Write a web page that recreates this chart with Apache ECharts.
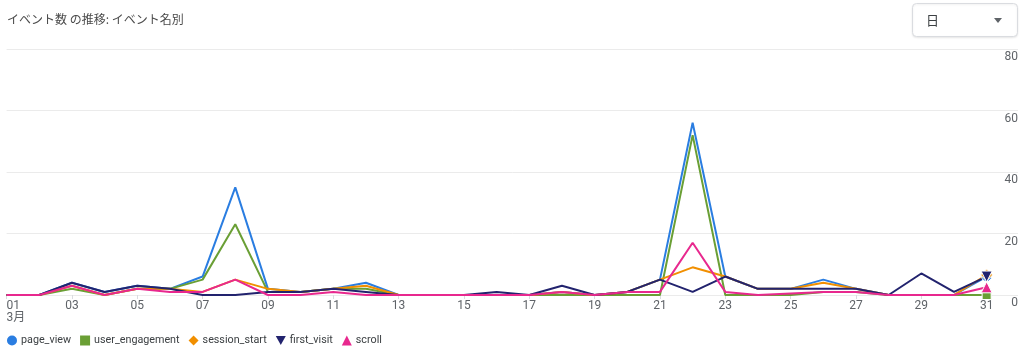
<!DOCTYPE html>
<html>
<head>
<meta charset="utf-8">
<script src="https://cdn.jsdelivr.net/npm/echarts@6/dist/echarts.min.js"></script>
<style>
  html, body { margin: 0; padding: 0; background: #fff; }
  #chart { width: 1024px; height: 351px; }
</style>
</head>
<body>
<div id="chart"></div>
<script>
// days of March
const days = [1, 2, 3, 4, 5, 6, 7, 8, 9, 10, 11, 12, 13, 14, 15, 16, 17, 18, 19, 20, 21, 22, 23, 24, 25, 26, 27, 28, 29, 30, 31]
const labelDays = [1, 3, 5, 7, 9, 11, 13, 15, 17, 19, 21, 23, 25, 27, 29, 31]
const yTicks = [0, 20, 40, 60, 80]

const pageView       = [0, 0, 4, 1, 3, 2, 6, 35, 2, 1, 2, 4, 0, 0, 0, 0, 0, 1, 0, 1, 5, 56, 6, 2, 2, 5, 2, 0, 0, 0, 6]
const userEngagement = [0, 0, 2, 0, 2, 2, 5, 23, 1, 1, 2, 2, 0, 0, 0, 0, 0, 0, 0, 0, 0, 52, 0, 0, 0, 1, 1, 0, 0, 0, 0]
const sessionStart   = [0, 0, 3, 0, 2, 2, 1, 5, 2, 1, 2, 3, 0, 0, 0, 0, 0, 1, 0, 1, 5, 9, 6, 2, 2, 4, 2, 0, 0, 0, 6.5]
const firstVisit     = [0, 0, 4, 1, 3, 2, 0, 0, 1, 1, 2, 1, 0, 0, 0, 1, 0, 3, 0, 1, 5, 1, 6, 2, 2, 2, 2, 0, 7, 1, 6]
const scroll         = [0, 0, 3, 0, 2, 1, 1, 5, 0, 0, 1, 0, 0, 0, 0, 0, 0, 1, 0, 1, 1, 17, 1, 0, 0.5, 1, 1, 0, 0, 0, 2.5]

const downTriangle = 'path://M0,0 L10,0 L5,9 Z'

function makeSeries(name, values, color, symbol, size) {
  return {
    name: name,
    type: 'line',
    symbol: symbol,
    showSymbol: true,
    symbolSize: 0,
    lineStyle: { width: 2, color: color },
    itemStyle: { color: color },
    emphasis: { disabled: true },
    data: values.map((v, i) => {
      if (i === values.length - 1) {
        return { value: [days[i], v], symbolSize: size, itemStyle: { color: color, borderColor: '#fff', borderWidth: 1 } }
      }
      return [days[i], v]
    })
  }
}

const chart = echarts.init(document.getElementById('chart'))
chart.setOption({
  backgroundColor: '#fff',
  animation: false,
  textStyle: { fontFamily: 'Roboto, "Noto Sans CJK JP", sans-serif' },
  title: {
    text: 'イベント数 の推移: イベント名別',
    left: 2,
    top: 8,
    textStyle: { fontSize: 12, fontWeight: 'normal', color: '#4a4a4a', fontFamily: '"Noto Sans CJK JP", sans-serif' }
  },
  graphic: [
    {
      type: 'rect',
      shape: { x: 912.5, y: 3.5, width: 105, height: 33, r: 4 },
      style: { fill: '#fff', stroke: '#dadce0', lineWidth: 1, shadowBlur: 2, shadowColor: 'rgba(0,0,0,0.08)', shadowOffsetY: 1 }
    },
    {
      type: 'text',
      left: 926,
      top: 14,
      style: { text: '日', fontSize: 13, fill: '#3c4043', fontFamily: '"Noto Sans CJK JP", sans-serif' }
    },
    {
      type: 'polygon',
      shape: { points: [[994, 18], [1002, 18], [998, 23]] },
      style: { fill: '#5f6368' }
    }
  ],
  legend: {
    left: 7,
    top: 335,
    padding: 0,
    itemWidth: 10,
    itemHeight: 10,
    itemGap: 9,
    selectedMode: false,
    textStyle: { fontSize: 10.75, color: '#3c4043', fontFamily: 'Roboto, sans-serif', padding: [0, 0, 0, -1] },
    data: [
      { name: 'page_view', icon: 'circle' },
      { name: 'user_engagement', icon: 'rect' },
      { name: 'session_start', icon: 'diamond' },
      { name: 'first_visit', icon: downTriangle },
      { name: 'scroll', icon: 'triangle' }
    ]
  },
  grid: { left: 6.6, right: 6, top: 49, bottom: 56 },
  xAxis: {
    type: 'value',
    min: 1,
    max: 31.96,
    axisLine: { show: false },
    splitLine: { show: false },
    axisTick: {
      show: true,
      length: 4,
      customValues: labelDays,
      lineStyle: { color: '#dadce0' }
    },
    axisLabel: {
      customValues: labelDays,
      margin: 5,
      fontSize: 12,
      lineHeight: 12,
      color: '#5f6368',
      alignMinLabel: 'left',
      formatter: function (v) {
        const s = String(v).padStart(2, '0')
        return v === days[0] ? s + '\n3月' : s
      }
    }
  },
  yAxis: {
    type: 'value',
    position: 'right',
    min: yTicks[0],
    max: yTicks[yTicks.length - 1],
    interval: 20,
    axisLine: { show: false },
    axisTick: { show: false },
    splitLine: { lineStyle: { color: '#ebebeb', width: 1 } },
    axisLabel: {
      inside: true,
      margin: 0,
      fontSize: 12,
      color: '#5f6368',
      verticalAlign: 'top',
      padding: [2, 0, 0, 0]
    }
  },
  series: [
    makeSeries('page_view', pageView, '#2a7de1', 'circle', 10),
    makeSeries('user_engagement', userEngagement, '#6a9f35', 'rect', 9),
    makeSeries('session_start', sessionStart, '#f18f00', 'diamond', 12),
    makeSeries('first_visit', firstVisit, '#22236e', downTriangle, 11),
    makeSeries('scroll', scroll, '#e8288e', 'triangle', 11)
  ]
})
</script>
</body>
</html>
